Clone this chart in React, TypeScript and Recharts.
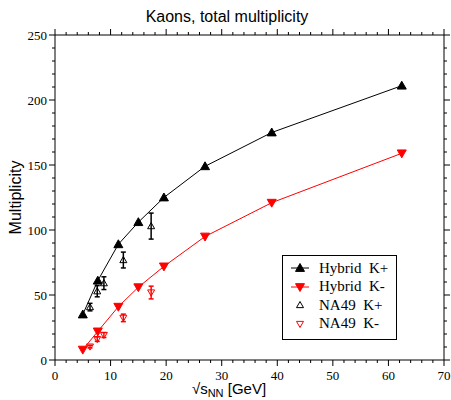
import React from "react";
import {
  ComposedChart,
  Line,
  Scatter,
  ErrorBar,
  XAxis,
  YAxis,
} from "recharts";

// model calculation (hybrid)
const hybridSqrtS = [5.0, 7.7, 11.4, 15.0, 19.6, 27.0, 39.0, 62.4];
const hybridKPlus = [35, 61, 89, 106, 125, 149, 175, 211];
const hybridKMinus = [8, 22, 41, 56, 72, 95, 121, 159];

// NA49 data
const na49SqrtS = [6.3, 7.6, 8.8, 12.3, 17.3];
const na49KPlus = [40.7, 52.9, 59.1, 76.9, 103.0];
const na49KPlusErr = [2.9, 4.3, 4.9, 6.1, 10.0];
const na49KMinus = [10.3, 16.0, 19.2, 32.4, 51.9];
const na49KMinusErr = [1.0, 1.7, 1.9, 2.9, 4.9];

const xTicks = [
  0, 2, 4, 6, 8, 10, 12, 14, 16, 18, 20, 22, 24, 26, 28, 30, 32, 34, 36, 38,
  40, 42, 44, 46, 48, 50, 52, 54, 56, 58, 60, 62, 64, 66, 68, 70,
];
const yTicks = [
  0, 10, 20, 30, 40, 50, 60, 70, 80, 90, 100, 110, 120, 130, 140, 150, 160,
  170, 180, 190, 200, 210, 220, 230, 240, 250,
];

const RED = "#ff0000";
const SERIF = "Liberation Serif, serif";
const SANS = "Liberation Sans, Arial, sans-serif";

const kPlusHybrid = hybridSqrtS.map((x, i) => ({ x, y: hybridKPlus[i] }));
const kMinusHybrid = hybridSqrtS.map((x, i) => ({ x, y: hybridKMinus[i] }));
const kPlusNa49 = na49SqrtS.map((x, i) => ({ x, y: na49KPlus[i], err: na49KPlusErr[i] }));
const kMinusNa49 = na49SqrtS.map((x, i) => ({ x, y: na49KMinus[i], err: na49KMinusErr[i] }));

function TriUp({ cx, cy, color, open, s = 4.5 }: any) {
  if (cx == null || cy == null) return null;
  const pts = `${cx},${cy - s} ${cx - s},${cy + s * 0.75} ${cx + s},${cy + s * 0.75}`;
  return <polygon points={pts} fill={open ? "none" : color} stroke={color} strokeWidth={1} />;
}

function TriDown({ cx, cy, color, open, s = 4.5 }: any) {
  if (cx == null || cy == null) return null;
  const pts = `${cx},${cy + s} ${cx - s},${cy - s * 0.75} ${cx + s},${cy - s * 0.75}`;
  return <polygon points={pts} fill={open ? "none" : color} stroke={color} strokeWidth={1} />;
}

function bottomTick({ x, y, payload }: any) {
  const major = payload.value % 10 === 0;
  return (
    <g key={`b${payload.value}`}>
      <path d={`M${x},${y}v${major ? 6 : 3}`} stroke="#000" strokeWidth={1} fill="none" />
      {major && (
        <text x={x} y={y + 20} textAnchor="middle" fontFamily={SERIF} fontSize={13} fill="#000">
          {payload.value}
        </text>
      )}
    </g>
  );
}

function topTick({ x, y, payload }: any) {
  const major = payload.value % 10 === 0;
  return (
    <path key={`t${payload.value}`} d={`M${x},${y}v${major ? -6 : -3}`} stroke="#000" strokeWidth={1} fill="none" />
  );
}

function leftTick({ x, y, payload }: any) {
  const major = payload.value % 50 === 0;
  return (
    <g key={`l${payload.value}`}>
      <path d={`M${x},${y}h${major ? -6 : -3}`} stroke="#000" strokeWidth={1} fill="none" />
      {major && (
        <text x={x - 8} y={y} dy="0.35em" textAnchor="end" fontFamily={SERIF} fontSize={13} fill="#000">
          {payload.value}
        </text>
      )}
    </g>
  );
}

function rightTick({ x, y, payload }: any) {
  const major = payload.value % 50 === 0;
  return (
    <path key={`r${payload.value}`} d={`M${x},${y}h${major ? 6 : 3}`} stroke="#000" strokeWidth={1} fill="none" />
  );
}

const legendItems = [
  { label: "Hybrid  K+", color: "#000", down: false, open: false, line: true },
  { label: "Hybrid  K-", color: RED, down: true, open: false, line: true },
  { label: "NA49  K+", color: "#000", down: false, open: true, line: false },
  { label: "NA49  K-", color: RED, down: true, open: true, line: false },
];

function LegendBox() {
  return (
    <div
      style={{
        position: "absolute",
        left: 282,
        top: 255,
        border: "1px solid #000",
        background: "#fff",
        width: 115,
        height: 85,
        boxSizing: "border-box",
        paddingTop: 3,
      }}
    >
      {legendItems.map((it) => (
        <div key={it.label} style={{ display: "flex", alignItems: "center", height: 18.5 }}>
          <svg width={32} height={18} style={{ marginLeft: 4 }}>
            {it.line && <line x1={4} x2={22} y1={9} y2={9} stroke={it.color} />}
            {it.down ? (
              <TriDown cx={13} cy={9} color={it.color} open={it.open} s={it.open ? 3.5 : 4.5} />
            ) : (
              <TriUp cx={13} cy={9} color={it.color} open={it.open} s={it.open ? 3.5 : 4.5} />
            )}
          </svg>
          <span style={{ fontFamily: SERIF, fontSize: 15, whiteSpace: "pre", color: "#000" }}>
            {it.label}
          </span>
        </div>
      ))}
    </div>
  );
}

export default function App() {
  return (
    <div style={{ position: "absolute", left: 0, top: 0, width: 451, height: 400, background: "#fff" }}>
      <ComposedChart
        width={451}
        height={400}
        margin={{ top: 34, right: 6, bottom: 0, left: 0 }}
      >
        <XAxis
          dataKey="x"
          type="number"
          domain={[0, 70]}
          ticks={xTicks}
          interval={0}
          allowDataOverflow
          height={40}
          tickSize={0}
          tickMargin={0}
          tickLine={false}
          tick={bottomTick}
          axisLine={{ stroke: "#000" }}
        />
        <XAxis
          xAxisId="top"
          orientation="top"
          dataKey="x"
          type="number"
          domain={[0, 70]}
          ticks={xTicks}
          interval={0}
          allowDataOverflow
          height={1}
          tickSize={0}
          tickMargin={0}
          tickLine={false}
          tick={topTick}
          axisLine={{ stroke: "#000" }}
        />
        <YAxis
          type="number"
          domain={[0, 250]}
          ticks={yTicks}
          interval={0}
          allowDataOverflow
          width={55}
          tickSize={0}
          tickMargin={0}
          tickLine={false}
          tick={leftTick}
          axisLine={{ stroke: "#000" }}
        />
        <YAxis
          yAxisId="right"
          orientation="right"
          type="number"
          domain={[0, 250]}
          ticks={yTicks}
          interval={0}
          allowDataOverflow
          width={1}
          tickSize={0}
          tickMargin={0}
          tickLine={false}
          tick={rightTick}
          axisLine={{ stroke: "#000" }}
        />
        {/* invisible series so the mirrored frame axes get a scale */}
        <Scatter
          xAxisId="top"
          yAxisId="right"
          data={kPlusHybrid}
          dataKey="y"
          shape={() => <g />}
          isAnimationActive={false}
        />
        <Line
          data={kPlusHybrid}
          dataKey="y"
          type="linear"
          stroke="#000"
          strokeWidth={1}
          dot={(p: any) => <TriUp key={p.index} cx={p.cx} cy={p.cy} color="#000" />}
          isAnimationActive={false}
        />
        <Line
          data={kMinusHybrid}
          dataKey="y"
          type="linear"
          stroke={RED}
          strokeWidth={1}
          dot={(p: any) => <TriDown key={p.index} cx={p.cx} cy={p.cy} color={RED} />}
          isAnimationActive={false}
        />
        <Scatter
          data={kPlusNa49}
          dataKey="y"
          shape={(p: any) => <TriUp cx={p.cx} cy={p.cy} color="#000" open s={3.5} />}
          isAnimationActive={false}
        >
          <ErrorBar dataKey="err" direction="y" width={2.5} stroke="#000" isAnimationActive={false} />
        </Scatter>
        <Scatter
          data={kMinusNa49}
          dataKey="y"
          shape={(p: any) => <TriDown cx={p.cx} cy={p.cy} color={RED} open s={3.5} />}
          isAnimationActive={false}
        >
          <ErrorBar dataKey="err" direction="y" width={2.5} stroke={RED} isAnimationActive={false} />
        </Scatter>
      </ComposedChart>
      <LegendBox />
      <svg
        width={451}
        height={400}
        style={{ position: "absolute", left: 0, top: 0, pointerEvents: "none" }}
      >
        <text x={227} y={22} textAnchor="middle" fontFamily={SANS} fontSize={16} fill="#000">
          Kaons, total multiplicity
        </text>
        <text
          x={21}
          y={197.5}
          textAnchor="middle"
          fontFamily={SANS}
          fontSize={16}
          fill="#000"
          transform="rotate(-90 21 197.5)"
        >
          Multiplicity
        </text>
        <text x={229} y={394} textAnchor="middle" fontFamily={SANS} fontSize={15} fill="#000">
          √s
          <tspan fontSize={11} dy={3}>NN</tspan>
          <tspan dy={-3}> [GeV]</tspan>
        </text>
      </svg>
    </div>
  );
}
